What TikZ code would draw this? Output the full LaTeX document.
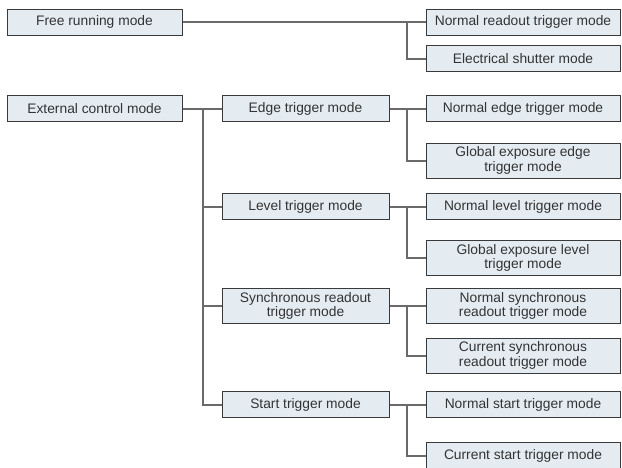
\documentclass[tikz,border=0pt]{standalone}
\usepackage{fontspec}
\setmainfont{Liberation Sans}
\definecolor{boxfill}{HTML}{E4ECF2}
\definecolor{boxline}{HTML}{3A3A3A}
\definecolor{linkgray}{HTML}{6A6A6A}
\definecolor{textgray}{HTML}{333333}
\tikzset{
  mode/.style={draw=boxline, fill=boxfill, line width=1pt, inner sep=0pt,
    align=center, text=textgray, font=\fontsize{13.8}{14.6}\selectfont,
    minimum height=26},
  twoline/.style={minimum height=35},
  leftbox/.style={mode, minimum width=175},
  midbox/.style={mode, minimum width=167},
  rightbox/.style={mode, minimum width=194},
  link/.style={draw=linkgray, line width=2pt}
}
\begin{document}
\begin{tikzpicture}[x=1pt,y=-1pt]
    \useasboundingbox (0,0) rectangle (622,467);
    % Free running branch
    \node[leftbox] (free) at (94.5,22) {Free running mode};
    \node[rightbox] (nread) at (523,22) {Normal readout trigger mode};
    \node[rightbox] (eshut) at (523,58.5) {Electrical shutter mode};
    \draw[link] (free.east) -- (nread.west);
    \draw[link] (nread.west) ++(-19,0) |- (eshut.west);
    % External control branch
    \node[leftbox] (ext) at (94.5,108.5) {External control mode};
    \node[midbox] (edge) at (305.5,108.5) {Edge trigger mode};
    \node[midbox] (level) at (305.5,206.5) {Level trigger mode};
    \node[midbox, twoline] (sync) at (305.5,306) {Synchronous readout\\trigger mode};
    \node[midbox] (start) at (305.5,404.5) {Start trigger mode};
    \coordinate (trunk) at (203,108.5);
    \draw[link] (ext.east) -- (edge.west);
    \draw[link] (trunk) |- (level.west);
    \draw[link] (trunk) |- (sync.west);
    \draw[link] (trunk) |- (start.west);
    % Edge trigger
    \node[rightbox] (nedge) at (523,108.5) {Normal edge trigger mode};
    \node[rightbox, twoline] (gedge) at (523,160.5) {Global exposure edge\\trigger mode};
    \draw[link] (edge.east) -- (nedge.west);
    \draw[link] (nedge.west) ++(-19,0) |- (gedge.west);
    % Level trigger
    \node[rightbox] (nlevel) at (523,206.5) {Normal level trigger mode};
    \node[rightbox, twoline] (glevel) at (523,258) {Global exposure level\\trigger mode};
    \draw[link] (level.east) -- (nlevel.west);
    \draw[link] (nlevel.west) ++(-19,0) |- (glevel.west);
    % Synchronous readout trigger
    \node[rightbox, twoline] (nsync) at (523,306) {Normal synchronous\\readout trigger mode};
    \node[rightbox, twoline] (csync) at (523,355.5) {Current synchronous\\readout trigger mode};
    \draw[link] (sync.east) -- (nsync.west);
    \draw[link] (nsync.west) ++(-19,0) |- (csync.west);
    % Start trigger
    \node[rightbox] (nstart) at (523,404.5) {Normal start trigger mode};
    \node[rightbox] (cstart) at (523,455.5) {Current start trigger mode};
    \draw[link] (start.east) -- (nstart.west);
    \draw[link] (nstart.west) ++(-19,0) |- (cstart.west);
\end{tikzpicture}
\end{document}
